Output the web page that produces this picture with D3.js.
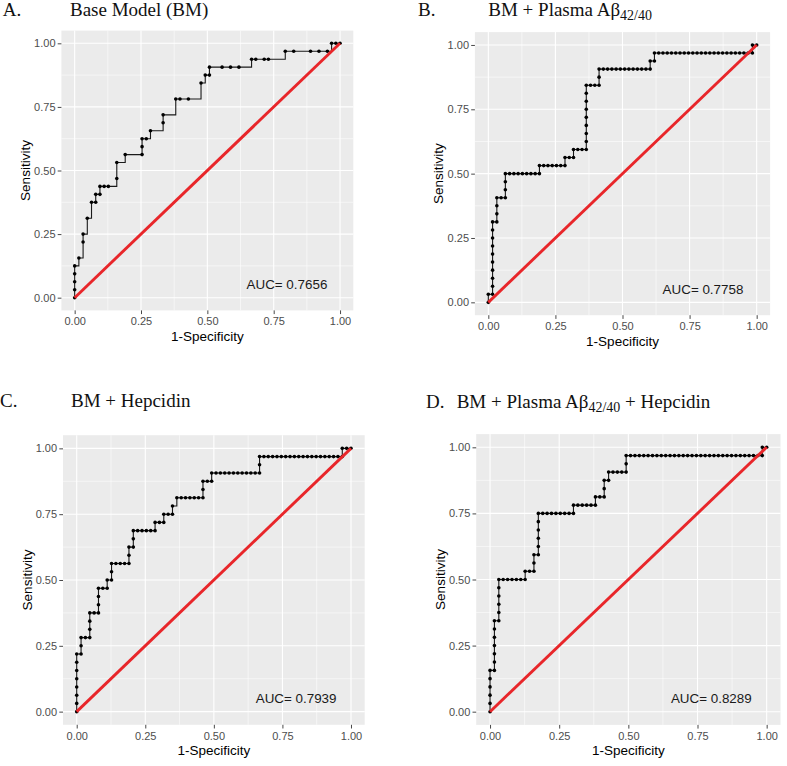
<!DOCTYPE html>
<html>
<head>
<meta charset="utf-8">
<script src="https://cdn.jsdelivr.net/npm/d3@7"></script>
<style>
  body { margin: 0; background: #fff; }
  svg { display: block; }
</style>
</head>
<body>
<svg width="787" height="766"></svg>
<script>
// counts of controls / cases behind the ROC points
var nControls = 63;
var nCases = 32;

// ROC points as [false positives, true positives] (counts)
var rocA = [[0,0],[0,1],[0,2],[0,3],[0,4],[1,5],[2,7],[2,8],[3,10],[4,12],[5,12],[5,13],[6,13],[6,14],[7,14],[8,14],
  [10,15],[10,17],[12,18],[16,18],[16,19],[16,20],[17,20],[18,21],[21,22],[21,23],[24,25],[25,25],[27,25],[30,27],
  [31,28],[32,28],[32,29],[35,29],[37,29],[39,29],[42,30],[43,30],[45,30],[46,30],[50,31],[52,31],[56,31],[58,31],
  [60,31],[61,32],[62,32],[63,32]];

var rocB = [[0,0],[0,1],[1,1],[1,2],[1,3],[1,4],[1,5],[1,6],[1,7],[1,8],[1,9],[1,10],
  [2,10],[2,11],[2,12],[2,13],[3,13],[4,13],[4,14],[4,15],[4,16],
  [5,16],[6,16],[7,16],[8,16],[9,16],[10,16],[11,16],[12,16],[12,17],
  [13,17],[14,17],[15,17],[16,17],[17,17],[18,17],[18,18],[19,18],[20,18],[20,19],
  [21,19],[22,19],[23,19],[23,20],[23,21],[23,22],[23,23],[23,24],[23,25],[23,26],[23,27],
  [24,27],[25,27],[26,27],[26,28],[26,29],
  [27,29],[28,29],[29,29],[30,29],[31,29],[32,29],[33,29],[34,29],[35,29],[36,29],[37,29],[38,29],
  [38,30],[39,30],[39,31],
  [40,31],[41,31],[42,31],[43,31],[44,31],[45,31],[46,31],[47,31],[48,31],[49,31],[50,31],[51,31],
  [52,31],[53,31],[54,31],[55,31],[56,31],[57,31],[58,31],[59,31],[60,31],[61,31],[62,31],
  [62,32],[63,32]];

var rocC = [[0,0],[0,1],[0,2],[0,3],[0,4],[0,5],[0,6],[0,7],[1,7],[1,8],[1,9],[2,9],[3,9],[3,10],[3,11],[3,12],
  [4,12],[5,12],[5,13],[5,14],[5,15],[6,15],[7,15],[7,16],[8,16],[8,17],[8,18],[9,18],[10,18],[11,18],[12,18],
  [12,19],[12,20],[13,20],[13,21],[13,22],[14,22],[15,22],[16,22],[17,22],[18,22],[18,23],[19,23],[20,23],
  [20,24],[21,24],[22,24],[22,25],[23,26],[24,26],[25,26],[26,26],[27,26],[28,26],[29,26],[29,27],[29,28],
  [30,28],[31,28],[31,29],[32,29],[33,29],[34,29],[35,29],[36,29],[37,29],[38,29],[39,29],[40,29],[41,29],
  [42,29],[42,30],[42,31],
  [43,31],[44,31],[45,31],[46,31],[47,31],[48,31],[49,31],[50,31],[51,31],[52,31],[53,31],[54,31],[55,31],
  [56,31],[57,31],[58,31],[59,31],[60,31],[61,31],[61,32],[62,32],[63,32]];

var rocD = [[0,0],[0,1],[0,2],[0,3],[0,4],[0,5],[1,5],[1,6],[1,7],[1,8],[1,9],[1,10],[1,11],
  [2,11],[2,12],[2,13],[2,14],[2,15],[2,16],[3,16],[4,16],[5,16],[6,16],[7,16],[8,16],
  [8,17],[9,17],[10,17],[10,18],[10,19],[11,19],[11,20],[11,21],[11,22],[11,23],[11,24],
  [12,24],[13,24],[14,24],[15,24],[16,24],[17,24],[18,24],[19,24],[19,25],
  [20,25],[21,25],[22,25],[23,25],[24,25],[24,26],[25,26],[26,26],[26,27],[26,28],[27,28],[27,29],
  [28,29],[29,29],[30,29],[31,29],[31,30],[31,31],
  [32,31],[33,31],[34,31],[35,31],[36,31],[37,31],[38,31],[39,31],[40,31],[41,31],[42,31],[43,31],
  [44,31],[45,31],[46,31],[47,31],[48,31],[49,31],[50,31],[51,31],[52,31],[53,31],[54,31],[55,31],
  [56,31],[57,31],[58,31],[59,31],[60,31],[61,31],[62,31],[62,32],[63,32]];

var rocs = [rocA, rocB, rocC, rocD];

// chance line
var diagonal = [[0, 0], [1, 1]];

// ticks
var majorTicks = [0, 0.25, 0.5, 0.75, 1];
var minorTicks = [0.125, 0.375, 0.625, 0.875];

// texts
var panelLetters = ["A.", "B.", "C.", "D."];
var titleMain = ["Base Model (BM)", "BM + Plasma A\u03b2", "BM + Hepcidin", "BM + Plasma A\u03b2"];
var titleSub = ["", "42/40", "", "42/40"];
var titleTail = ["", "", "", " + Hepcidin"];
var aucLabels = ["AUC= 0.7656", "AUC= 0.7758", "AUC= 0.7939", "AUC= 0.8289"];
var aucPos = [0.8, 0.05];

// panel boxes (pixels) and title placement
var layout = [
  {left: 61.4, top: 30.6, w: 291.9, h: 279.8, letterX: 2.7, titleX: 70, titleY: 15.5},
  {left: 474.9, top: 32.1, w: 295.2, h: 283.1, letterX: 418, titleX: 488.3, titleY: 16},
  {left: 63, top: 435.2, w: 301.7, h: 289.6, letterX: 0, titleX: 71, titleY: 407},
  {left: 476.2, top: 434.1, w: 304.3, h: 290.8, letterX: 426, titleX: 456.7, titleY: 407.5}
];

var sans = "'Liberation Sans', Arial, sans-serif";
var serif = "'Liberation Serif', 'Times New Roman', serif";

var svg = d3.select("svg");

function drawPanel(i) {
  var L = layout[i];
  var g = svg.append("g");

  var x = d3.scaleLinear().domain([-0.05, 1.05]).range([L.left, L.left + L.w]);
  var y = d3.scaleLinear().domain([-0.05, 1.05]).range([L.top + L.h, L.top]);

  // panel background
  g.append("rect")
    .attr("x", L.left)
    .attr("y", L.top)
    .attr("width", L.w)
    .attr("height", L.h)
    .attr("fill", "#EBEBEB");

  // grid lines
  var grid = g.append("g").attr("stroke", "#fff");
  grid.selectAll(".vminor").data(minorTicks).enter().append("line")
    .attr("x1", function(d) { return x(d); }).attr("x2", function(d) { return x(d); })
    .attr("y1", L.top).attr("y2", L.top + L.h)
    .attr("stroke-width", 0.55);
  grid.selectAll(".hminor").data(minorTicks).enter().append("line")
    .attr("y1", function(d) { return y(d); }).attr("y2", function(d) { return y(d); })
    .attr("x1", L.left).attr("x2", L.left + L.w)
    .attr("stroke-width", 0.55);
  grid.selectAll(".vmajor").data(majorTicks).enter().append("line")
    .attr("x1", function(d) { return x(d); }).attr("x2", function(d) { return x(d); })
    .attr("y1", L.top).attr("y2", L.top + L.h)
    .attr("stroke-width", 1.1);
  grid.selectAll(".hmajor").data(majorTicks).enter().append("line")
    .attr("y1", function(d) { return y(d); }).attr("y2", function(d) { return y(d); })
    .attr("x1", L.left).attr("x2", L.left + L.w)
    .attr("stroke-width", 1.1);

  // axes
  var xAxis = g.append("g")
    .attr("transform", "translate(0," + (L.top + L.h) + ")")
    .call(d3.axisBottom(x).tickValues(majorTicks).tickFormat(d3.format(".2f"))
      .tickSize(3.7).tickSizeOuter(0).tickPadding(3.2));
  var yAxis = g.append("g")
    .attr("transform", "translate(" + L.left + ",0)")
    .call(d3.axisLeft(y).tickValues(majorTicks).tickFormat(d3.format(".2f"))
      .tickSize(3.7).tickSizeOuter(0).tickPadding(2.2));
  [xAxis, yAxis].forEach(function(a) {
    a.select(".domain").remove();
    a.selectAll(".tick line").attr("stroke", "#333").attr("stroke-width", 0.9);
    a.selectAll(".tick text")
      .attr("fill", "#4D4D4D")
      .style("font-family", sans)
      .style("font-size", "11px");
  });

  // ROC step curve
  var line = d3.line()
    .x(function(d) { return x(d[0] / nControls); })
    .y(function(d) { return y(d[1] / nCases); })
    .curve(d3.curveStepAfter);

  g.append("path")
    .attr("d", line(rocs[i]))
    .attr("fill", "none")
    .attr("stroke", "#1a1a1a")
    .attr("stroke-width", 1.1);

  g.selectAll(".pt").data(rocs[i]).enter().append("circle")
    .attr("cx", function(d) { return x(d[0] / nControls); })
    .attr("cy", function(d) { return y(d[1] / nCases); })
    .attr("r", 1.8)
    .attr("fill", "#000");

  // reference diagonal
  g.append("path")
    .attr("d", d3.line().x(function(d) { return x(d[0]); }).y(function(d) { return y(d[1]); })(diagonal))
    .attr("stroke", "#E8262A")
    .attr("stroke-width", 2.9)
    .attr("fill", "none");

  // AUC label
  g.append("text")
    .attr("x", x(aucPos[0]))
    .attr("y", y(aucPos[1]))
    .attr("text-anchor", "middle")
    .attr("dominant-baseline", "central")
    .style("font-family", sans)
    .style("font-size", "13.4px")
    .attr("fill", "#1a1a1a")
    .text(aucLabels[i]);

  // axis titles
  g.append("text")
    .attr("x", L.left + L.w / 2)
    .attr("y", L.top + L.h + 30.5)
    .attr("text-anchor", "middle")
    .style("font-family", sans)
    .style("font-size", "13.5px")
    .attr("fill", "#000")
    .text("1-Specificity");

  g.append("text")
    .attr("transform", "translate(" + (L.left - 31.5) + "," + (L.top + L.h / 2) + ") rotate(-90)")
    .attr("text-anchor", "middle")
    .style("font-family", sans)
    .style("font-size", "13.5px")
    .attr("fill", "#000")
    .text("Sensitivity");

  // panel title
  g.append("text")
    .attr("x", L.letterX)
    .attr("y", L.titleY)
    .style("font-family", serif)
    .style("font-size", "19px")
    .attr("fill", "#111")
    .text(panelLetters[i]);

  var t = g.append("text")
    .attr("x", L.titleX)
    .attr("y", L.titleY)
    .style("font-family", serif)
    .style("font-size", "19px")
    .attr("fill", "#111");
  t.append("tspan").text(titleMain[i]);
  if (titleSub[i]) {
    t.append("tspan").attr("dy", 4).style("font-size", "14px").text(titleSub[i]);
  }
  if (titleTail[i]) {
    t.append("tspan").attr("dy", -4).text(titleTail[i]);
  }
}

for (var i = 0; i < 4; i++) {
  drawPanel(i);
}
</script>
</body>
</html>
